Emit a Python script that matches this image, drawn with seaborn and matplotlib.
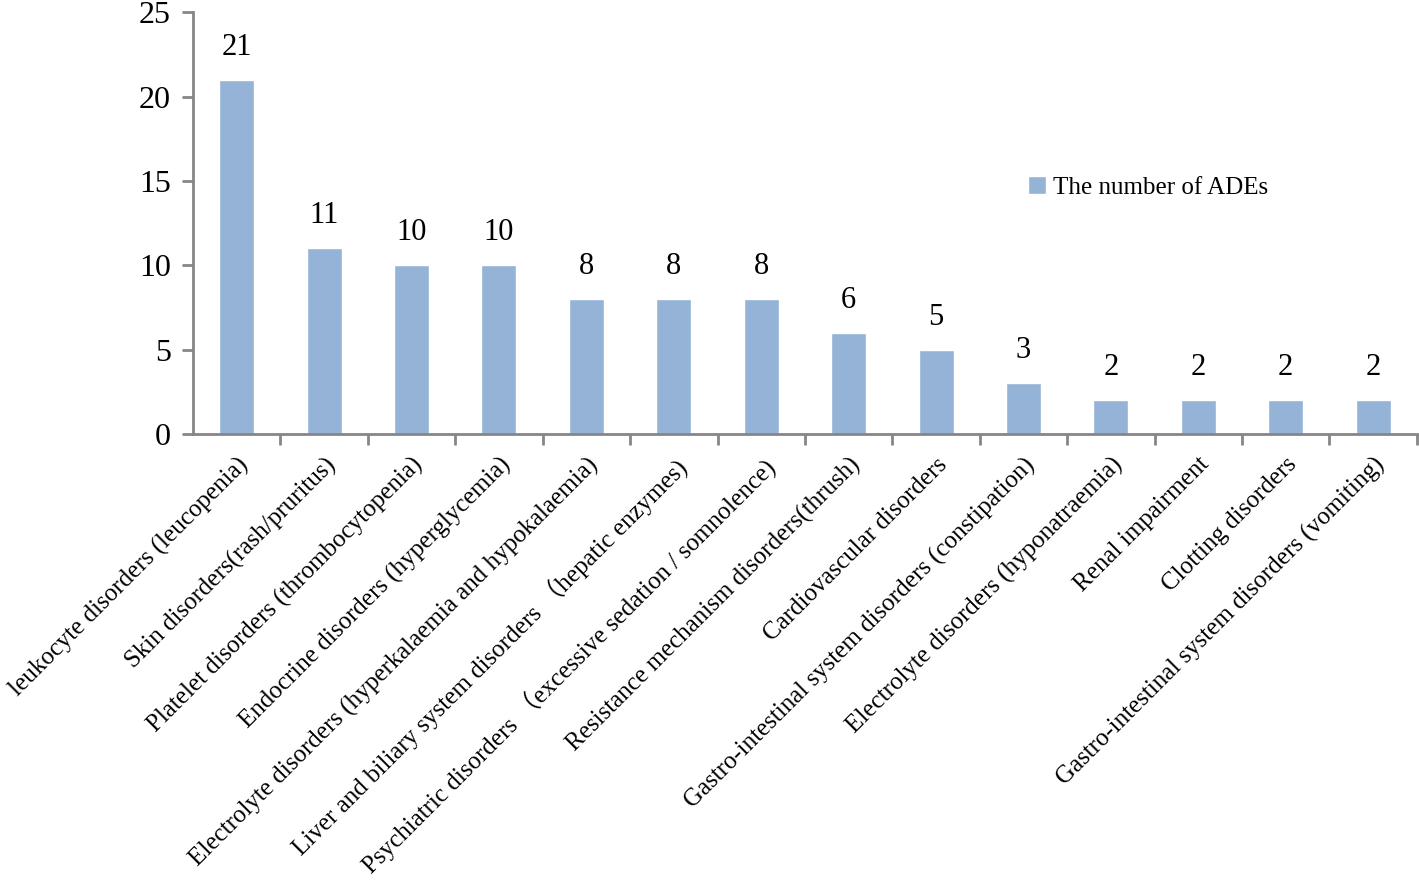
import matplotlib
matplotlib.use('Agg')
import matplotlib.pyplot as plt
import seaborn as sns
import pandas as pd

categories = [
    'leukocyte disorders (leucopenia)',
    'Skin disorders(rash/pruritus)',
    'Platelet disorders (thrombocytopenia)',
    'Endocrine disorders (hyperglycemia)',
    'Electrolyte disorders (hyperkalaemia and hypokalaemia)',
    'Liver and biliary system disorders \uff08hepatic enzymes)',
    'Psychiatric disorders \uff08excessive sedation / somnolence)',
    'Resistance mechanism disorders(thrush)',
    'Cardiovascular disorders',
    'Gastro-intestinal system disorders (constipation)',
    'Electrolyte disorders (hyponatraemia)',
    'Renal impairment',
    'Clotting disorders',
    'Gastro-intestinal system disorders (vomiting)',
]
counts = [21, 11, 10, 10, 8, 8, 8, 6, 5, 3, 2, 2, 2, 2]
series_name = 'The number of ADEs'

df = pd.DataFrame({'Category': categories, 'Count': counts})

sns.set_style('white')
plt.rcParams['font.family'] = ['Liberation Serif', 'Noto Sans CJK SC']
plt.rcParams['text.color'] = 'black'
plt.rcParams['xtick.labelcolor'] = 'black'
plt.rcParams['ytick.labelcolor'] = 'black'

fig = plt.figure(figsize=(14.19, 8.82), dpi=100)
ax = fig.add_axes([0.136, 0.508, 0.8625, 0.478])

sns.barplot(data=df, x='Category', y='Count', color='#95B3D7', saturation=1,
            width=0.4, label=series_name, ax=ax)

for i, v in enumerate(counts):
    ax.annotate(str(v), (i, v), xytext=(0, 13), textcoords='offset points',
                ha='center', va='bottom', fontsize=22, color='black')

ax.set_ylim(0, 25)
ax.set_xlim(-0.5, len(categories) - 0.5)
ax.set_yticks([0, 5, 10, 15, 20, 25])
ax.set_xlabel('')
ax.set_ylabel('')

axis_gray = '#868686'
for s in ['top', 'right']:
    ax.spines[s].set_visible(False)
for s in ['left', 'bottom']:
    ax.spines[s].set_color(axis_gray)
    ax.spines[s].set_linewidth(2)

ax.tick_params(axis='y', direction='out', length=8, width=2, color=axis_gray,
               labelsize=23, pad=8, left=True)
ax.set_xticks(range(len(categories)))
ax.set_xticklabels(categories, rotation=45, ha='right', rotation_mode='anchor',
                   fontsize=18)
ax.tick_params(axis='x', which='major', length=0, pad=14)
ax.set_xticks([i + 0.5 for i in range(len(categories))], minor=True)
ax.tick_params(axis='x', which='minor', direction='out', length=8, width=2,
               color=axis_gray, bottom=True)

ax.legend(loc='center left', bbox_to_anchor=(0.664, 0.585), frameon=False,
          fontsize=18, handlelength=0.7, handleheight=0.7, handletextpad=0.3)

fig.savefig('out.png', dpi=100)
